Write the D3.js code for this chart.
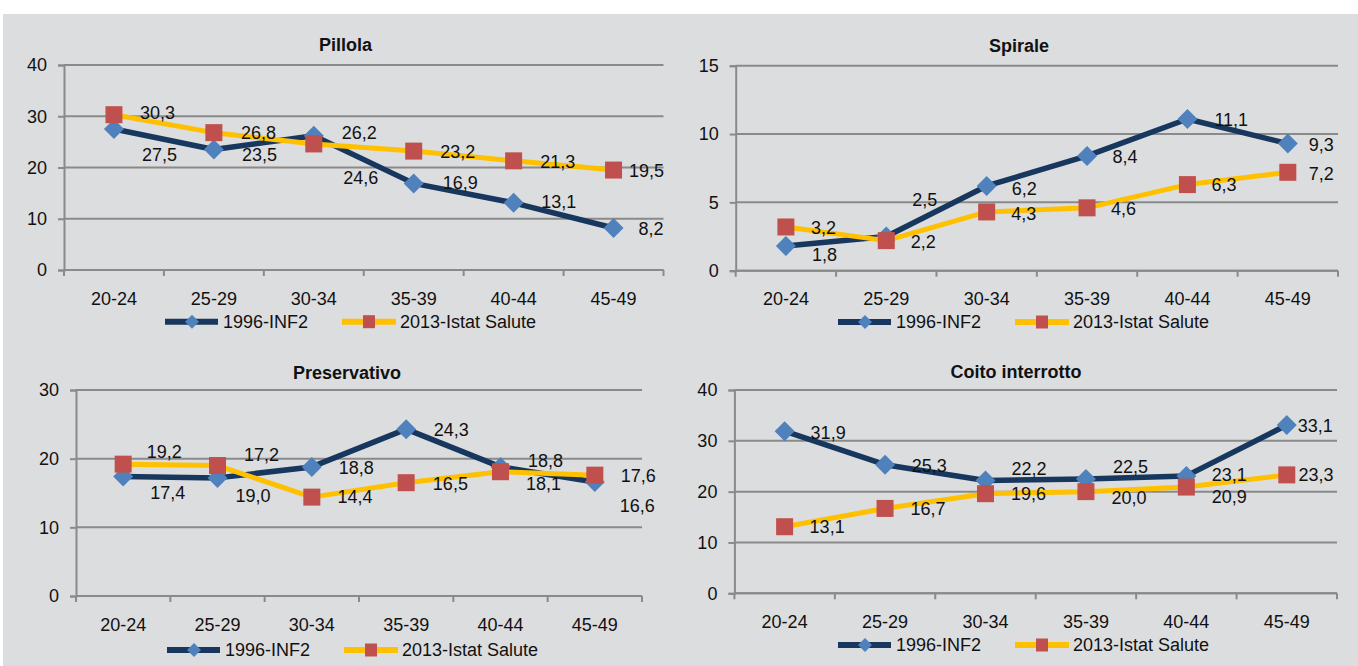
<!DOCTYPE html>
<html>
<head>
<meta charset="utf-8">
<script src="https://cdn.jsdelivr.net/npm/d3@7"></script>
<style>
  html, body { margin: 0; padding: 0; background: #ffffff; }
  svg { display: block; }
  text { font-family: "Liberation Sans", Arial, sans-serif; fill: #111; }
</style>
</head>
<body>
<svg id="chart" width="1358" height="666"></svg>
<script>
// ---------------- DATA ----------------
const categories = ["20-24", "25-29", "30-34", "35-39", "40-44", "45-49"];
const seriesNames = ["1996-INF2", "2013-Istat Salute"];

const pillola1996 = [27.5, 23.5, 26.2, 16.9, 13.1, 8.2];
const pillola2013 = [30.3, 26.8, 24.6, 23.2, 21.3, 19.5];

const spirale1996 = [1.8, 2.5, 6.2, 8.4, 11.1, 9.3];
const spirale2013 = [3.2, 2.2, 4.3, 4.6, 6.3, 7.2];

const preservativo1996 = [17.4, 17.2, 18.8, 24.3, 18.8, 16.6];
const preservativo2013 = [19.2, 19.0, 14.4, 16.5, 18.1, 17.6];

const coito1996 = [31.9, 25.3, 22.2, 22.5, 23.1, 33.1];
const coito2013 = [13.1, 16.7, 19.6, 20.0, 20.9, 23.3];

const titles = ["Pillola", "Spirale", "Preservativo", "Coito interrotto"];
const yTicksPillola = [0, 10, 20, 30, 40];
const yTicksSpirale = [0, 5, 10, 15];
const yTicksPreservativo = [0, 10, 20, 30];
const yTicksCoito = [0, 10, 20, 30, 40];

// ---------------- LAYOUT (positions / label nudges, kept apart from data) ----------------
const panels = [
  { title: titles[0], s1: pillola1996, s2: pillola2013, ticks: yTicksPillola,
    left: 64, right: 663.5, top: 65, bottom: 270, titleX: 345.6, titleY: 45, legX: 165, legY: 321.7,
    nudge1: [[28,26],[28,5],[28,-3],[29,-1],[27.5,-1],[25,1]],
    nudge2: [[26,-2],[27,0],[29.5,34],[26.5,1],[26.5,1],[15.5,1]] },
  { title: titles[1], s1: spirale1996, s2: spirale2013, ticks: yTicksSpirale,
    left: 735.7, right: 1338, top: 65.7, bottom: 270.7, titleX: 1019, titleY: 45.6, legX: 838, legY: 322,
    nudge1: [[26,9],[26,-36.5],[25,3],[25.5,1],[27,1],[21,1]],
    nudge2: [[25,1],[24.5,1],[24.7,1.5],[24,1],[24,0],[21,1]] },
  { title: titles[2], s1: preservativo1996, s2: preservativo2013, ticks: yTicksPreservativo,
    left: 76, right: 642, top: 390, bottom: 596, titleX: 347, titleY: 372.3, legX: 167, legY: 650,
    nudge1: [[27,16],[26.5,-23],[27,1],[27.6,1],[27.6,-6],[25,24]],
    nudge2: [[23.5,-12.5],[18,30.5],[25.6,0],[26.7,1],[25.6,11.6],[26,1]] },
  { title: titles[3], s1: coito1996, s2: coito2013, ticks: yTicksCoito,
    left: 734.4, right: 1337, top: 390, bottom: 593.3, titleX: 1016, titleY: 372, legX: 838, legY: 645,
    nudge1: [[26,1.5],[26.6,1],[26,-12],[27,-12],[25.4,-1.5],[11,0.6]],
    nudge2: [[25,0],[25.4,0],[25.5,0.5],[25.6,6],[25.4,10],[11.6,0]] }
];

const C = {
  bg: "#dcdddf",
  grid: "#8a8a8a",
  dark: "#17375e",
  diamond: "#4f81bd",
  yellow: "#ffc000",
  square: "#c0504d"
};
const FS = 18;

const itLocale = d3.formatLocale({ decimal: ",", thousands: ".", grouping: [3], currency: ["€", ""] });
const fmt = itLocale.format(".1f");

const svg = d3.select("#chart");
svg.append("rect").attr("x", 3).attr("y", 14).attr("width", 1355).attr("height", 652).attr("fill", C.bg);

const diamondPath = (r) => `M0,${-r}L${r},0L0,${r}L${-r},0Z`;

panels.forEach(p => {
  const g = svg.append("g");
  const x = d3.scaleBand().domain(categories).range([p.left, p.right]).padding(0);
  const yMax = p.ticks[p.ticks.length - 1];
  const y = d3.scaleLinear().domain([0, yMax]).range([p.bottom, p.top]);
  const cx = d => x(d) + x.bandwidth() / 2;

  // gridlines
  g.append("g").selectAll("line").data(p.ticks).join("line")
    .attr("x1", p.left).attr("x2", p.right)
    .attr("y1", d => y(d)).attr("y2", d => y(d))
    .attr("stroke", C.grid).attr("stroke-width", 2);

  // y axis
  const yAxis = g.append("g").attr("transform", `translate(${p.left},0)`)
    .call(d3.axisLeft(y).tickValues(p.ticks).tickSize(6).tickPadding(11).tickFormat(d3.format("d")));
  yAxis.select(".domain").attr("stroke", C.grid).attr("stroke-width", 2);
  yAxis.selectAll(".tick line").attr("stroke", C.grid).attr("stroke-width", 2);
  yAxis.selectAll(".tick text").attr("font-size", FS).attr("fill", "#111")
    .style("font-family", '"Liberation Sans", Arial, sans-serif');

  // x axis (labels at category centres, tick marks at boundaries)
  const xAxis = g.append("g").attr("transform", `translate(0,${p.bottom})`)
    .call(d3.axisBottom(x).tickSize(0).tickPadding(22));
  xAxis.select(".domain").remove();
  xAxis.selectAll(".tick text").attr("font-size", FS).attr("fill", "#111")
    .style("font-family", '"Liberation Sans", Arial, sans-serif');
  g.append("line").attr("x1", p.left).attr("x2", p.right).attr("y1", p.bottom).attr("y2", p.bottom)
    .attr("stroke", C.grid).attr("stroke-width", 2);
  const bounds = categories.map(c => x(c)).concat([x(categories[categories.length - 1]) + x.bandwidth()]);
  g.append("g").selectAll("line").data(bounds).join("line")
    .attr("x1", d => d).attr("x2", d => d)
    .attr("y1", p.bottom).attr("y2", p.bottom + 6)
    .attr("stroke", C.grid).attr("stroke-width", 2);

  // title
  g.append("text").attr("x", p.titleX).attr("y", p.titleY).attr("dy", "0.35em")
    .attr("text-anchor", "middle").attr("font-size", FS).attr("font-weight", "bold").text(p.title);

  const line = d3.line().x((d, i) => cx(categories[i])).y(d => y(d));

  // series 1 (1996)
  g.append("path").datum(p.s1).attr("d", line).attr("fill", "none")
    .attr("stroke", C.dark).attr("stroke-width", 5.5).attr("stroke-linejoin", "round");
  g.append("g").selectAll("path").data(p.s1).join("path")
    .attr("d", diamondPath(10))
    .attr("transform", (d, i) => `translate(${cx(categories[i])},${y(d)})`)
    .attr("fill", C.diamond);

  // series 2 (2013)
  g.append("path").datum(p.s2).attr("d", line).attr("fill", "none")
    .attr("stroke", C.yellow).attr("stroke-width", 5).attr("stroke-linejoin", "round");
  g.append("g").selectAll("rect").data(p.s2).join("rect")
    .attr("x", (d, i) => cx(categories[i]) - 8.5).attr("y", d => y(d) - 8.5)
    .attr("width", 17).attr("height", 17).attr("fill", C.square);

  // data labels
  const addLabels = (vals, nudge) => {
    g.append("g").selectAll("text").data(vals).join("text")
      .attr("x", (d, i) => cx(categories[i]) + nudge[i][0])
      .attr("y", (d, i) => y(d) + nudge[i][1])
      .attr("dy", "0.35em").attr("font-size", FS)
      .text(d => fmt(d));
  };
  addLabels(p.s1, p.nudge1);
  addLabels(p.s2, p.nudge2);

  // legend
  const lg = g.append("g").attr("transform", `translate(${p.legX},${p.legY})`);
  lg.append("line").attr("x1", 0).attr("x2", 53).attr("y1", 0).attr("y2", 0)
    .attr("stroke", C.dark).attr("stroke-width", 6);
  lg.append("path").attr("d", diamondPath(7)).attr("transform", "translate(27,0)").attr("fill", C.diamond);
  lg.append("text").attr("x", 58).attr("dy", "0.35em").attr("font-size", FS).text(seriesNames[0]);
  lg.append("line").attr("x1", 177).attr("x2", 231).attr("y1", 0).attr("y2", 0)
    .attr("stroke", C.yellow).attr("stroke-width", 6);
  lg.append("rect").attr("x", 198).attr("y", -6.5).attr("width", 12).attr("height", 13).attr("fill", C.square);
  lg.append("text").attr("x", 235).attr("dy", "0.35em").attr("font-size", FS).text(seriesNames[1]);
});
</script>
</body>
</html>
